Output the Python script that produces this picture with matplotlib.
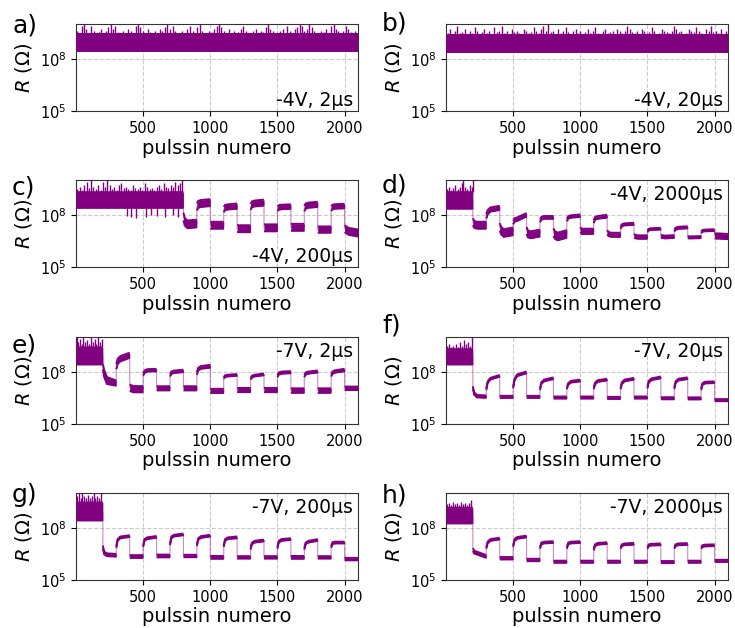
import numpy as np
import matplotlib
matplotlib.use("Agg")
import matplotlib.pyplot as plt
from matplotlib.ticker import NullLocator

# ---------------- data (log10 of R in ohms) ----------------
# pulse-number vertices shared by panels d-h (switching every 100 pulses after 200)
x_steps = [0, 200,
           200, 210, 230, 300, 300, 310, 330, 400, 400, 410, 430, 500,
           500, 510, 530, 600, 600, 610, 630, 700, 700, 710, 730, 800,
           800, 810, 830, 900, 900, 910, 930, 1000, 1000, 1010, 1030, 1100,
           1100, 1110, 1130, 1200, 1200, 1210, 1230, 1300, 1300, 1310, 1330, 1400,
           1400, 1410, 1430, 1500, 1500, 1510, 1530, 1600, 1600, 1610, 1630, 1700,
           1700, 1710, 1730, 1800, 1800, 1810, 1830, 1900, 1900, 1910, 1930, 2000,
           2000, 2010, 2030, 2100]

# panel c switches every 100 pulses after 800
x_c = [0, 800,
       800, 810, 830, 900, 900, 910, 930, 1000, 1000, 1010, 1030, 1100,
       1100, 1110, 1130, 1200, 1200, 1210, 1230, 1300, 1300, 1310, 1330, 1400,
       1400, 1410, 1430, 1500, 1500, 1510, 1530, 1600, 1600, 1610, 1630, 1700,
       1700, 1710, 1730, 1800, 1800, 1810, 1830, 1900, 1900, 1910, 1930, 2000,
       2000, 2010, 2030, 2100]

x_ab = [0, 2100]

# a) -4V, 2us
lo_a = [8.42, 8.42]
hi_a = [9.4, 9.4]
spikes_a = [(8, 9.6), (27, 9.5), (45, 9.9), (60, 10.0), (78, 9.7), (95, 9.5), (110, 9.9), (131, 9.6),
            (150, 9.45), (168, 9.55), (185, 9.7), (204, 9.5), (222, 9.6), (240, 9.8), (258, 10.0),
            (275, 9.7), (290, 9.9), (311, 9.55), (330, 9.5), (349, 9.6), (370, 9.45), (388, 9.7),
            (410, 9.6), (428, 9.5), (447, 9.9), (465, 10.0), (480, 9.8), (498, 9.6), (515, 9.5),
            (533, 9.7), (552, 9.55), (570, 9.45), (590, 9.6), (608, 9.5), (625, 9.7), (643, 9.6),
            (660, 9.85), (680, 10.0), (700, 9.7), (720, 9.9), (738, 9.6), (757, 9.5), (775, 9.45),
            (793, 9.6), (812, 9.5), (830, 9.7), (849, 9.9), (868, 9.6), (885, 9.5), (902, 9.8),
            (920, 10.0), (938, 9.6), (956, 9.5), (975, 9.45), (993, 9.6), (1012, 9.55), (1030, 9.7),
            (1048, 9.9), (1066, 10.0), (1083, 9.8), (1100, 9.6), (1118, 9.5), (1136, 9.7),
            (1155, 9.45), (1173, 9.6), (1192, 9.5), (1210, 9.55), (1229, 9.7), (1247, 9.9),
            (1265, 9.6), (1283, 9.5), (1300, 9.45), (1318, 9.6), (1337, 9.7), (1356, 9.5),
            (1374, 9.6), (1393, 9.55), (1412, 9.8), (1430, 10.0), (1448, 9.7), (1466, 9.6),
            (1485, 9.5), (1503, 9.45), (1520, 9.6), (1538, 9.7), (1556, 9.5), (1574, 9.9),
            (1592, 9.6), (1610, 9.5), (1628, 9.7), (1646, 9.8), (1665, 10.0), (1683, 9.9),
            (1701, 9.6), (1718, 9.7), (1736, 10.0), (1754, 9.85), (1772, 9.6), (1790, 9.5),
            (1808, 9.45), (1826, 9.6), (1845, 9.55), (1863, 9.7), (1881, 9.5), (1900, 9.9),
            (1918, 10.0), (1936, 9.7), (1954, 9.6), (1972, 9.5), (1990, 9.6), (2008, 9.9),
            (2027, 9.7), (2045, 9.55), (2063, 9.5), (2081, 9.6)]

# b) -4V, 20us
lo_b = [8.4, 8.4]
hi_b = [9.35, 9.35]
spikes_b = [(12, 9.5), (30, 9.7), (48, 9.45), (66, 9.6), (85, 9.9), (103, 9.5), (121, 9.55),
            (140, 9.7), (158, 9.45), (176, 9.6), (195, 9.5), (213, 9.8), (231, 9.6), (250, 9.45),
            (268, 9.55), (286, 9.7), (305, 9.5), (323, 9.6), (341, 9.45), (360, 9.8), (378, 9.55),
            (396, 9.6), (415, 9.9), (433, 9.5), (451, 9.6), (470, 9.45), (488, 9.7), (506, 9.55),
            (525, 9.6), (543, 9.5), (561, 9.45), (580, 9.7), (598, 9.6), (616, 9.5), (635, 9.55),
            (653, 9.8), (671, 9.6), (690, 9.5), (708, 9.7), (726, 9.9), (745, 9.6), (763, 10.0),
            (781, 9.55), (800, 9.6), (818, 9.45), (836, 9.7), (855, 9.5), (873, 9.6), (891, 9.8),
            (910, 9.55), (928, 9.45), (946, 9.6), (965, 9.7), (983, 9.5), (1001, 9.6), (1020, 9.45),
            (1038, 9.55), (1056, 9.7), (1075, 9.5), (1093, 9.6), (1111, 9.8), (1130, 9.5),
            (1148, 9.45), (1166, 9.6), (1185, 9.7), (1203, 9.5), (1221, 9.55), (1240, 9.6),
            (1258, 9.45), (1276, 9.7), (1295, 9.6), (1313, 9.5), (1331, 9.6), (1350, 9.9),
            (1368, 9.7), (1386, 9.55), (1405, 9.5), (1423, 9.6), (1441, 9.45), (1460, 9.7),
            (1478, 9.6), (1496, 9.5), (1515, 9.55), (1533, 9.8), (1551, 9.6), (1570, 9.45),
            (1588, 9.5), (1606, 9.7), (1625, 9.6), (1643, 9.55), (1661, 9.5), (1680, 9.6),
            (1698, 9.9), (1716, 9.7), (1735, 9.55), (1753, 9.6), (1771, 9.45), (1790, 9.5),
            (1808, 9.7), (1826, 9.6), (1845, 9.55), (1863, 9.8), (1881, 9.6), (1900, 9.5),
            (1918, 9.45), (1936, 9.7), (1955, 9.6), (1973, 9.9), (1991, 9.55), (2010, 9.6),
            (2028, 9.5), (2046, 9.7), (2065, 9.45), (2083, 9.6)]

# c) -4V, 200us
lo_c = [8.4, 8.4,
        7.68, 7.38, 7.23, 7.28, 8.25, 8.4, 8.45, 8.5,
        7.2, 7.2, 7.2, 7.2, 8.15, 8.27, 8.3, 8.35,
        7.02, 7.0, 7.0, 7.0, 8.28, 8.43, 8.48, 8.53,
        7.05, 7.05, 7.05, 7.05, 8.22, 8.29, 8.32, 8.34,
        7.08, 7.08, 7.08, 7.08, 8.2, 8.35, 8.4, 8.45,
        6.97, 6.97, 6.97, 6.97, 8.22, 8.32, 8.35, 8.37,
        7.0, 6.95, 6.85, 6.75]
hi_c = [9.3, 9.3,
        8.12, 7.82, 7.67, 7.72, 8.65, 8.8, 8.85, 8.9,
        7.6, 7.6, 7.6, 7.6, 8.45, 8.57, 8.6, 8.65,
        7.42, 7.4, 7.4, 7.4, 8.62, 8.77, 8.82, 8.87,
        7.45, 7.45, 7.45, 7.45, 8.48, 8.55, 8.58, 8.6,
        7.48, 7.48, 7.48, 7.48, 8.5, 8.65, 8.7, 8.75,
        7.33, 7.33, 7.33, 7.33, 8.48, 8.58, 8.61, 8.63,
        7.4, 7.35, 7.25, 7.15]
spikes_c = [(10, 9.5), (28, 9.6), (45, 9.45), (62, 9.7), (80, 9.9), (98, 9.55), (112, 10.0),
            (130, 9.6), (148, 9.5), (165, 9.7), (183, 9.45), (200, 9.9), (218, 9.6), (232, 10.0),
            (250, 9.7), (268, 9.5), (285, 9.6), (302, 9.45), (320, 9.7), (338, 9.8), (355, 9.55),
            (372, 9.6), (390, 9.5), (408, 9.45), (425, 9.7), (442, 9.55), (460, 9.5), (478, 9.6),
            (495, 9.45), (512, 9.8), (530, 9.6), (548, 9.5), (565, 9.55), (582, 9.45), (600, 9.6),
            (618, 9.7), (635, 9.5), (652, 9.8), (670, 9.6), (688, 9.55), (705, 9.7), (722, 9.6),
            (740, 9.9), (758, 9.7), (775, 9.8), (790, 10.0)]
dips_c = [(380, 7.95), (410, 7.9), (450, 7.8), (520, 7.9), (560, 8.0), (600, 7.95),
          (660, 7.9), (720, 8.0), (760, 7.9)]

# d) -4V, 2000us
lo_d = [8.35, 8.35,
        7.4, 7.25, 7.2, 7.2, 7.78, 8.03, 8.18, 8.28,
        7.08, 6.88, 6.73, 6.83, 7.45, 7.6, 7.65, 7.9,
        6.9, 6.7, 6.65, 6.75, 7.57, 7.72, 7.77, 7.77,
        6.78, 6.63, 6.53, 6.68, 7.63, 7.78, 7.83, 7.88,
        7.0, 6.9, 6.9, 6.9, 7.52, 7.72, 7.77, 7.84,
        6.88, 6.78, 6.73, 6.73, 7.19, 7.34, 7.39, 7.42,
        6.7, 6.65, 6.62, 6.62, 7.0, 7.1, 7.13, 7.15,
        6.67, 6.67, 6.64, 6.67, 7.04, 7.14, 7.19, 7.22,
        6.66, 6.64, 6.64, 6.66, 6.95, 7.03, 7.05, 7.07,
        6.65, 6.63, 6.63, 6.6]
hi_d = [9.3, 9.3,
        7.8, 7.65, 7.6, 7.6, 8.02, 8.27, 8.42, 8.52,
        7.52, 7.32, 7.17, 7.27, 7.65, 7.8, 7.85, 8.1,
        7.3, 7.1, 7.05, 7.15, 7.73, 7.88, 7.93, 7.93,
        7.22, 7.07, 6.97, 7.12, 7.77, 7.92, 7.97, 8.02,
        7.3, 7.2, 7.2, 7.2, 7.68, 7.88, 7.93, 8.0,
        7.12, 7.02, 6.97, 6.97, 7.31, 7.46, 7.51, 7.54,
        6.9, 6.85, 6.82, 6.82, 7.1, 7.2, 7.23, 7.25,
        6.83, 6.83, 6.8, 6.83, 7.16, 7.26, 7.31, 7.34,
        6.78, 6.76, 6.76, 6.78, 7.05, 7.13, 7.15, 7.17,
        6.95, 6.93, 6.93, 6.9]
spikes_d = [(8, 9.5), (22, 9.6), (38, 9.45), (55, 9.55), (70, 9.7), (88, 9.5), (102, 9.6),
            (118, 9.8), (130, 10.0), (145, 9.6), (160, 9.5), (175, 9.7), (190, 9.6), (198, 10.0)]

# e) -7V, 2us
lo_e = [8.42, 8.42,
        8.15, 7.7, 7.3, 7.2, 8.15, 8.45, 8.6, 8.8,
        6.92, 6.87, 6.82, 6.82, 7.78, 7.93, 8.01, 8.03,
        6.93, 6.93, 6.93, 6.93, 7.73, 7.88, 7.93, 7.98,
        6.93, 6.93, 6.93, 6.93, 7.82, 8.07, 8.17, 8.24,
        6.78, 6.78, 6.78, 6.78, 7.6, 7.7, 7.73, 7.77,
        6.83, 6.83, 6.83, 6.83, 7.55, 7.67, 7.73, 7.8,
        6.83, 6.83, 6.83, 6.83, 7.69, 7.84, 7.89, 7.92,
        6.79, 6.79, 6.79, 6.79, 7.69, 7.84, 7.89, 7.96,
        6.79, 6.79, 6.79, 6.79, 7.73, 7.88, 7.95, 8.03,
        6.95, 6.95, 6.95, 6.95]
hi_e = [9.4, 9.4,
        8.45, 8.1, 7.7, 7.5, 8.45, 8.75, 8.9, 9.1,
        7.28, 7.23, 7.18, 7.18, 7.92, 8.07, 8.15, 8.17,
        7.17, 7.17, 7.17, 7.17, 7.87, 8.02, 8.07, 8.12,
        7.17, 7.17, 7.17, 7.17, 7.98, 8.23, 8.33, 8.4,
        7.02, 7.02, 7.02, 7.02, 7.7, 7.8, 7.83, 7.87,
        7.07, 7.07, 7.07, 7.07, 7.65, 7.77, 7.83, 7.9,
        7.07, 7.07, 7.07, 7.07, 7.81, 7.96, 8.01, 8.04,
        7.05, 7.05, 7.05, 7.05, 7.81, 7.96, 8.01, 8.08,
        7.05, 7.05, 7.05, 7.05, 7.87, 8.02, 8.09, 8.17,
        7.15, 7.15, 7.15, 7.15]
spikes_e = [(6, 10.0), (18, 9.7), (30, 9.9), (42, 9.6), (55, 10.0), (68, 9.7), (80, 9.8),
            (95, 9.6), (110, 10.0), (125, 9.7), (140, 9.9), (152, 9.6), (165, 10.0), (178, 9.7),
            (190, 9.9)]

# f) -7V, 20us
lo_f = [8.42, 8.42,
        7.03, 6.68, 6.53, 6.5, 6.95, 7.35, 7.55, 7.72,
        6.5, 6.5, 6.5, 6.5, 7.05, 7.5, 7.75, 7.92,
        6.5, 6.5, 6.5, 6.5, 6.95, 7.3, 7.45, 7.58,
        6.46, 6.46, 6.46, 6.46, 7.0, 7.25, 7.38, 7.45,
        6.46, 6.46, 6.46, 6.46, 7.0, 7.28, 7.42, 7.5,
        6.44, 6.44, 6.44, 6.44, 7.0, 7.3, 7.45, 7.55,
        6.46, 6.46, 6.46, 6.46, 7.05, 7.38, 7.52, 7.63,
        6.42, 6.42, 6.42, 6.42, 7.0, 7.35, 7.5, 7.58,
        6.41, 6.41, 6.41, 6.41, 6.95, 7.25, 7.33, 7.35,
        6.31, 6.31, 6.31, 6.31]
hi_f = [9.3, 9.3,
        7.17, 6.82, 6.67, 6.64, 7.05, 7.45, 7.65, 7.82,
        6.62, 6.62, 6.62, 6.62, 7.15, 7.6, 7.85, 8.02,
        6.62, 6.62, 6.62, 6.62, 7.05, 7.4, 7.55, 7.68,
        6.58, 6.58, 6.58, 6.58, 7.1, 7.35, 7.48, 7.55,
        6.58, 6.58, 6.58, 6.58, 7.1, 7.38, 7.52, 7.6,
        6.56, 6.56, 6.56, 6.56, 7.1, 7.4, 7.55, 7.65,
        6.58, 6.58, 6.58, 6.58, 7.15, 7.48, 7.62, 7.73,
        6.54, 6.54, 6.54, 6.54, 7.1, 7.45, 7.6, 7.68,
        6.53, 6.53, 6.53, 6.53, 7.05, 7.35, 7.43, 7.45,
        6.43, 6.43, 6.43, 6.43]
spikes_f = [(10, 9.5), (25, 9.6), (40, 9.45), (55, 9.5), (72, 9.6), (88, 9.45), (105, 9.7),
            (120, 9.5), (135, 9.8), (150, 9.6), (165, 9.7), (180, 9.5), (192, 10.0)]

# g) -7V, 200us
lo_g = [8.42, 8.42,
        6.82, 6.47, 6.37, 6.34, 6.85, 7.25, 7.4, 7.47,
        6.27, 6.27, 6.27, 6.27, 6.9, 7.25, 7.35, 7.43,
        6.3, 6.3, 6.3, 6.3, 7.0, 7.4, 7.5, 7.57,
        6.31, 6.31, 6.31, 6.31, 6.95, 7.3, 7.42, 7.5,
        6.22, 6.22, 6.22, 6.22, 6.9, 7.25, 7.35, 7.4,
        6.23, 6.23, 6.23, 6.23, 6.75, 7.05, 7.15, 7.22,
        6.23, 6.23, 6.23, 6.23, 6.8, 7.15, 7.25, 7.3,
        6.22, 6.22, 6.22, 6.22, 6.75, 7.05, 7.15, 7.25,
        6.23, 6.23, 6.23, 6.23, 6.85, 7.07, 7.1, 7.1,
        6.13, 6.13, 6.13, 6.13]
hi_g = [9.45, 9.45,
        6.98, 6.63, 6.53, 6.5, 6.95, 7.35, 7.5, 7.57,
        6.43, 6.43, 6.43, 6.43, 7.0, 7.35, 7.45, 7.53,
        6.46, 6.46, 6.46, 6.46, 7.1, 7.5, 7.6, 7.67,
        6.45, 6.45, 6.45, 6.45, 7.05, 7.4, 7.52, 7.6,
        6.38, 6.38, 6.38, 6.38, 7.0, 7.35, 7.45, 7.5,
        6.37, 6.37, 6.37, 6.37, 6.85, 7.15, 7.25, 7.32,
        6.37, 6.37, 6.37, 6.37, 6.9, 7.25, 7.35, 7.4,
        6.38, 6.38, 6.38, 6.38, 6.85, 7.15, 7.25, 7.35,
        6.37, 6.37, 6.37, 6.37, 6.95, 7.17, 7.2, 7.2,
        6.27, 6.27, 6.27, 6.27]
spikes_g = [(8, 9.8), (20, 10.0), (35, 9.7), (48, 10.0), (62, 9.8), (75, 9.7), (90, 9.9),
            (105, 9.7), (118, 9.8), (132, 10.0), (145, 9.7), (160, 9.8), (172, 9.7), (186, 10.0)]

# h) -7V, 2000us
lo_h = [8.25, 8.25,
        6.67, 6.52, 6.47, 6.27, 6.8, 7.1, 7.25, 7.33,
        6.18, 6.18, 6.18, 6.18, 6.9, 7.25, 7.37, 7.45,
        6.08, 6.08, 6.08, 6.08, 6.8, 7.05, 7.1, 7.13,
        5.99, 5.99, 5.99, 5.99, 6.8, 7.05, 7.1, 7.13,
        5.99, 5.99, 5.99, 5.99, 6.7, 6.95, 7.03, 7.07,
        5.99, 5.99, 5.99, 5.99, 6.8, 6.95, 7.0, 7.03,
        5.99, 5.99, 5.99, 5.99, 6.8, 6.95, 6.98, 7.0,
        5.97, 5.97, 5.97, 5.97, 6.8, 6.95, 7.0, 7.02,
        5.99, 5.99, 5.99, 5.99, 6.8, 6.9, 6.93, 6.95,
        6.04, 6.04, 6.04, 6.04]
hi_h = [9.15, 9.15,
        6.83, 6.68, 6.63, 6.43, 6.9, 7.2, 7.35, 7.43,
        6.32, 6.32, 6.32, 6.32, 7.0, 7.35, 7.47, 7.55,
        6.22, 6.22, 6.22, 6.22, 6.9, 7.15, 7.2, 7.23,
        6.11, 6.11, 6.11, 6.11, 6.9, 7.15, 7.2, 7.23,
        6.11, 6.11, 6.11, 6.11, 6.8, 7.05, 7.13, 7.17,
        6.11, 6.11, 6.11, 6.11, 6.9, 7.05, 7.1, 7.13,
        6.11, 6.11, 6.11, 6.11, 6.9, 7.05, 7.08, 7.1,
        6.09, 6.09, 6.09, 6.09, 6.9, 7.05, 7.1, 7.12,
        6.11, 6.11, 6.11, 6.11, 6.9, 7.0, 7.03, 7.05,
        6.16, 6.16, 6.16, 6.16]
spikes_h = [(8, 9.35), (22, 9.45), (36, 9.3), (50, 9.5), (65, 9.35), (80, 9.4), (95, 9.3),
            (110, 9.5), (125, 9.35), (140, 9.4), (155, 9.3), (170, 9.45), (185, 9.6)]

letters = ["a)", "b)", "c)", "d)", "e)", "f)", "g)", "h)"]
conditions = ["-4V, 2\u00b5s", "-4V, 20\u00b5s", "-4V, 200\u00b5s", "-4V, 2000\u00b5s",
              "-7V, 2\u00b5s", "-7V, 20\u00b5s", "-7V, 200\u00b5s", "-7V, 2000\u00b5s"]
xticks = [500, 1000, 1500, 2000]
yticks = [1e5, 1e8]

# ---------------- figure ----------------
COL = "#800080"
fig = plt.figure(figsize=(7.35, 6.28), dpi=100)
W, H = 735.0, 628.0
ax_w, ax_h = 282 / W, 87 / H
lefts = [76 / W, 446 / W]
bottoms = [1 - 111 / H, 1 - 267 / H, 1 - 424 / H, 1 - 580 / H]

panels = [
    (x_ab, lo_a, hi_a, spikes_a, None),
    (x_ab, lo_b, hi_b, spikes_b, None),
    (x_c, lo_c, hi_c, spikes_c, dips_c),
    (x_steps, lo_d, hi_d, spikes_d, None),
    (x_steps, lo_e, hi_e, spikes_e, None),
    (x_steps, lo_f, hi_f, spikes_f, None),
    (x_steps, lo_g, hi_g, spikes_g, None),
    (x_steps, lo_h, hi_h, spikes_h, None),
]
# letter label positions (pixels in figure)
letter_px = [(12, 25), (382, 24), (12, 187), (382, 186),
             (12, 346), (382, 325), (12, 495), (382, 495)]


def broken_at_jumps(xv, yv):
    """Insert NaN between vertices that share an x (vertical jumps)."""
    xs, ys = [xv[0]], [yv[0]]
    for k in range(1, len(xv)):
        if xv[k] == xv[k - 1]:
            xs.append(np.nan)
            ys.append(np.nan)
        xs.append(xv[k])
        ys.append(yv[k])
    return np.array(xs), np.array(ys)


for i, (xv, lo, hi, spk, dips) in enumerate(panels):
    r, c = divmod(i, 2)
    ax = fig.add_axes([lefts[c], bottoms[r], ax_w, ax_h])
    xv = np.array(xv, dtype=float)
    lo = np.array(lo)
    hi = np.array(hi)
    ax.fill_between(xv, 10 ** lo, 10 ** hi, color=COL, lw=0, zorder=3)
    for edge in (lo, hi):
        bx, by = broken_at_jumps(xv, 10 ** edge)
        ax.plot(bx, by, color=COL, lw=1.4, zorder=3, solid_capstyle="butt")
    ax.plot(xv, 10 ** ((lo + hi) / 2), color=COL, lw=0.8, alpha=0.45, zorder=2)
    sx = [p[0] for p in spk]
    st = np.array([p[1] for p in spk])
    ax.vlines(sx, 10 ** hi[0], 10 ** st, color=COL, lw=1.0, zorder=3)
    if dips is not None:
        dx = [p[0] for p in dips]
        db = np.array([p[1] for p in dips])
        ax.vlines(dx, 10 ** db, 10 ** lo[0], color=COL, lw=1.0, zorder=3)

    ax.set_yscale("log")
    ax.set_ylim(1e5, 1e10)
    ax.set_yticks(yticks)
    ax.yaxis.set_minor_locator(NullLocator())
    ax.set_xlim(0, 2100)
    ax.set_xticks(xticks)
    ax.grid(True, ls="--", color="#cccccc", lw=0.8, zorder=0)
    ax.set_axisbelow(True)
    ax.tick_params(labelsize=10.5)
    for sp in ax.spines.values():
        sp.set_color("0.2")
    ax.set_xlabel("pulssin numero", fontsize=14, labelpad=2)
    ax.set_ylabel("$R$ (\u03a9)", fontsize=14)

    if i < 3:
        ax.text(0.982, 0.057, conditions[i], transform=ax.transAxes,
                ha="right", va="baseline", fontsize=13.5, zorder=5)
    else:
        ax.text(0.982, 0.77, conditions[i], transform=ax.transAxes,
                ha="right", va="baseline", fontsize=13.5, zorder=5)

    lx, ly = letter_px[i]
    fig.text(lx / W, 1 - ly / H, letters[i], ha="left", va="center", fontsize=18)

fig.savefig("out.png", dpi=100)
